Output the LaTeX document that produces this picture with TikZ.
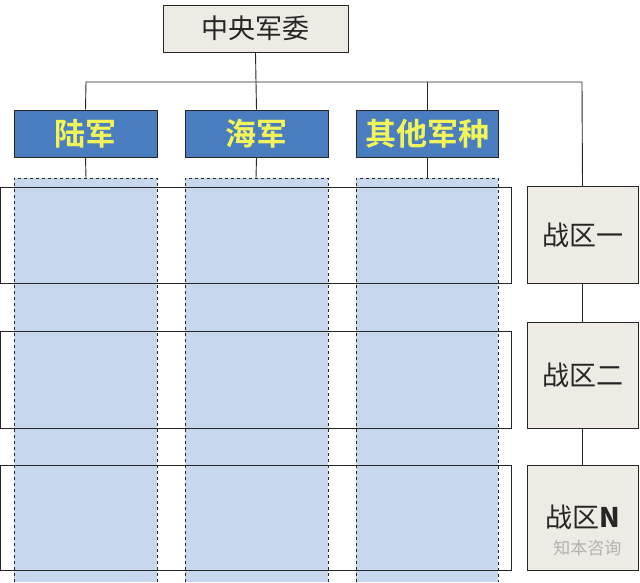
\documentclass[tikz,border=0pt]{standalone}
\usepackage{fontspec}
\newfontfamily\cjk{Noto Sans CJK SC}
\newfontfamily\cjkb{Noto Sans CJK SC Bold}
\begin{document}
\begin{tikzpicture}[x=1pt,y=-1pt,
  box/.style={draw=black!85,line width=0.9pt,inner sep=0pt,text=black!85,font=\cjk\fontsize{27}{29}\selectfont},
  svc/.style={draw=black!85,line width=0.9pt,inner sep=0pt},
  ln/.style={draw=black!85,line width=0.9pt}]
\definecolor{svcblue}{HTML}{4A7CC0}
\definecolor{colblue}{HTML}{C6D7EE}
\definecolor{zone}{HTML}{EDEBE3}
\definecolor{ylw}{HTML}{F2F55A}
\useasboundingbox[fill=white] (0,0) rectangle (640,582);
\foreach \xa/\xb in {14/157,185/328,356/498}{
  \fill[colblue] (\xa,178) rectangle (\xb,582);
}
\foreach \ya/\yb in {187/283,331/428,465/570}{
  \draw[ln] (0,\ya) rectangle (511,\yb);
}
\foreach \xa/\xb in {14/157,185/328,356/498}{
  \draw[black!85,dashed,line width=0.8pt] (\xa,582) -- (\xa,178) -- (\xb,178) -- (\xb,582);
}
\coordinate (c1) at (86,178);
\coordinate (c2) at (256,178);
\coordinate (c3) at (427,178);
\node[box,minimum width=185pt,minimum height=47pt,fill=zone] (top) at (255.5,28.5) {中央军委};
\node[svc,fill=svcblue,minimum width=143pt,minimum height=47pt] (s1) at (85.5,133.5) {};
\node[svc,fill=svcblue,minimum width=143pt,minimum height=47pt] (s2) at (256.5,133.5) {};
\node[svc,fill=svcblue,minimum width=142pt,minimum height=47pt] (s3) at (427,133.5) {};
\foreach \s/\t in {s1/陆军,s2/海军,s3/其他军种}{
  \node[text=ylw,font=\cjkb\fontsize{31}{33}\selectfont] at (\s) {\t};
}
\node[box,fill=zone,minimum width=111pt,minimum height=97pt] (z1) at (582.5,235) {战区一};
\node[box,fill=zone,minimum width=111pt,minimum height=106pt] (z2) at (582.5,375) {战区二};
\node[box,fill=zone,minimum width=111pt,minimum height=105pt] (z3) at (582.5,517.5) {战区\textbf{N}};
\coordinate (j) at (256,82);
\draw[ln] (top.south) -- (j);
\draw[ln] (s1.north) -- (86,82) -- (582,82) -- (z1.north);
\draw[ln] (s2.north) -- (256,82);
\draw[ln] (s3.north) -- (427,82);
\draw[ln] (z1.south) -- (z2.north);
\draw[ln] (z2.south) -- (z3.north);
\draw[ln] (s1.south) -- (c1);
\draw[ln] (s2.south) -- (c2);
\draw[ln] (s3.south) -- (c3);
\node[text=gray!60,font=\cjk\fontsize{17}{18}\selectfont,anchor=east] (wm) at (625,548) {知本咨询};
\end{tikzpicture}
\end{document}
